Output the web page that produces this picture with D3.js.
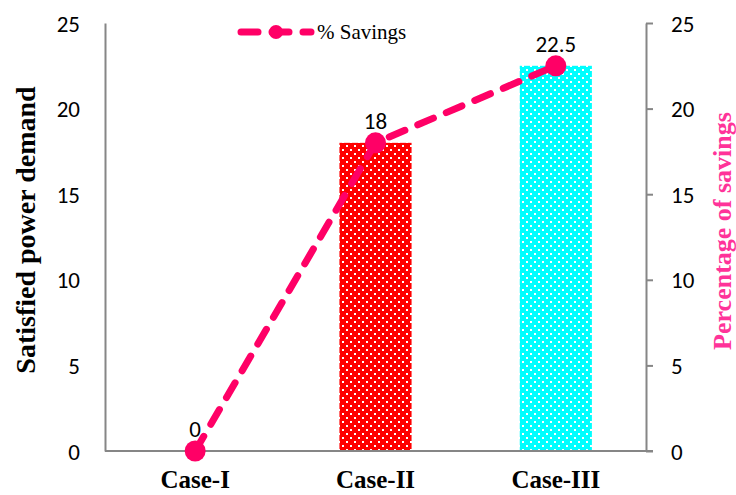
<!DOCTYPE html>
<html>
<head>
<meta charset="utf-8">
<script src="https://cdn.jsdelivr.net/npm/d3@7/dist/d3.min.js"></script>
<style>
  body { margin: 0; background: #fff; }
  svg { display: block; }
</style>
</head>
<body>
<svg id="chart" width="736" height="495"></svg>
<script>
// Cases compared
const categories = ["Case-I", "Case-II", "Case-III"];
// Satisfied power demand (bars)
const demandValues = [0, 18, 22.5];
// Percentage of savings (line)
const savingsValues = [0, 18, 22.5];
// Axis ticks
const yTicks = [0, 5, 10, 15, 20, 25];
const barColors = ["#FF0000", "#FF0000", "#00FFFF"];
const lineColor = "#FF0066";
const sansFont = "Carlito, 'Open Sans', 'Liberation Sans', sans-serif";
const serifFont = "'Liberation Serif', 'Times New Roman', serif";

const svg = d3.select("#chart");
const plotLeft = 105, plotRight = 646, plotTop = 23, plotBottom = 451;

const x = d3.scaleBand().domain(categories).range([plotLeft, plotRight]).paddingInner(0).paddingOuter(0);
const yL = d3.scaleLinear().domain([0, 25]).range([plotBottom, plotTop]);
const yR = d3.scaleLinear().domain([0, 25]).range([plotBottom, plotTop]);

// Dotted fill patterns for the bars
const defs = svg.append("defs");
barColors.forEach((c, i) => {
  const p = defs.append("pattern")
    .attr("id", "dots" + i)
    .attr("patternUnits", "userSpaceOnUse")
    .attr("width", 8).attr("height", 8);
  p.append("rect").attr("width", 8).attr("height", 8).attr("fill", c);
  p.append("rect").attr("x", 2).attr("y", 1).attr("width", 2).attr("height", 2).attr("fill", "#fff");
  p.append("rect").attr("x", 6).attr("y", 5).attr("width", 2).attr("height", 2).attr("fill", "#fff");
});

// Bars
const barW = x.bandwidth() * 0.4;
svg.append("g").selectAll("rect")
  .data(categories)
  .join("rect")
  .attr("x", d => x(d) + (x.bandwidth() - barW) / 2)
  .attr("width", barW)
  .attr("y", (d, i) => yL(demandValues[i]))
  .attr("height", (d, i) => plotBottom - yL(demandValues[i]))
  .attr("fill", (d, i) => `url(#dots${i})`);

// Left axis (labels only, plain line)
const leftAxis = d3.axisLeft(yL).tickValues(yTicks).tickSize(0).tickPadding(25);
const gL = svg.append("g").attr("transform", `translate(${plotLeft},0)`).call(leftAxis);
gL.select(".domain").attr("stroke", "#868686").attr("stroke-width", 2);
gL.selectAll("text").attr("font-family", sansFont)
  .attr("font-size", 23).attr("fill", "#000").attr("dy", "0.35em");

// Right axis with outward ticks
const rightAxis = d3.axisRight(yR).tickValues(yTicks).tickSize(7).tickSizeOuter(0).tickPadding(18);
const gR = svg.append("g").attr("transform", `translate(${plotRight},0)`).call(rightAxis);
gR.select(".domain").attr("stroke", "#868686").attr("stroke-width", 2);
gR.selectAll("line").attr("stroke", "#868686").attr("stroke-width", 2);
gR.selectAll("text").attr("font-family", sansFont)
  .attr("font-size", 23).attr("fill", "#000").attr("dy", "0.35em");

// Bottom axis
const bottomAxis = d3.axisBottom(x).tickSize(0);
const gB = svg.append("g").attr("transform", `translate(0,${plotBottom})`).call(bottomAxis);
gB.select(".domain").attr("stroke", "#868686").attr("stroke-width", 2)
  .attr("d", `M${plotLeft},0H${plotRight + 7}`);
gB.selectAll("text").attr("font-family", serifFont)
  .attr("font-weight", "bold").attr("font-size", 25).attr("fill", "#000")
  .attr("y", 37).attr("dy", 0);

// Savings line
const cx = d => x(d) + x.bandwidth() / 2;
const line = d3.line().x(d => cx(d)).y((d, i) => yR(savingsValues[i]));
svg.append("path")
  .datum(categories)
  .attr("d", line)
  .attr("fill", "none")
  .attr("stroke", lineColor)
  .attr("stroke-width", 7)
  .attr("stroke-linecap", "round")
  .attr("stroke-dasharray", "17,14");

svg.append("g").selectAll("circle")
  .data(categories)
  .join("circle")
  .attr("cx", d => cx(d))
  .attr("cy", (d, i) => yR(savingsValues[i]))
  .attr("r", 10.5)
  .attr("fill", lineColor);

// Value labels
svg.append("g").selectAll("text")
  .data(categories)
  .join("text")
  .attr("x", d => cx(d))
  .attr("y", (d, i) => yR(savingsValues[i]) - 14)
  .attr("text-anchor", "middle")
  .attr("font-family", sansFont)
  .attr("font-size", 23)
  .attr("fill", "#000")
  .text((d, i) => savingsValues[i]);

// Axis titles
svg.append("text")
  .attr("transform", `translate(35,230) rotate(-90)`)
  .attr("text-anchor", "middle")
  .attr("font-family", serifFont)
  .attr("font-weight", "bold").attr("font-size", 28).attr("fill", "#000")
  .text("Satisfied power demand");

svg.append("text")
  .attr("transform", `translate(731,231) rotate(-90)`)
  .attr("text-anchor", "middle")
  .attr("font-family", serifFont)
  .attr("font-weight", "bold").attr("font-size", 26).attr("fill", "#FF3399")
  .text("Percentage of savings");

// Legend
const lg = svg.append("g").attr("transform", "translate(241,32)");
lg.append("line").attr("x1", 0).attr("x2", 70).attr("y1", 0).attr("y2", 0)
  .attr("stroke", lineColor).attr("stroke-width", 7).attr("stroke-linecap", "round")
  .attr("stroke-dasharray", "17,14");
lg.append("circle").attr("cx", 35).attr("cy", 0).attr("r", 7).attr("fill", lineColor);
lg.append("text").attr("x", 76).attr("y", 0).attr("dy", "0.35em")
  .attr("font-family", serifFont)
  .attr("font-size", 21).attr("fill", "#000")
  .text("% Savings");
</script>
</body>
</html>
